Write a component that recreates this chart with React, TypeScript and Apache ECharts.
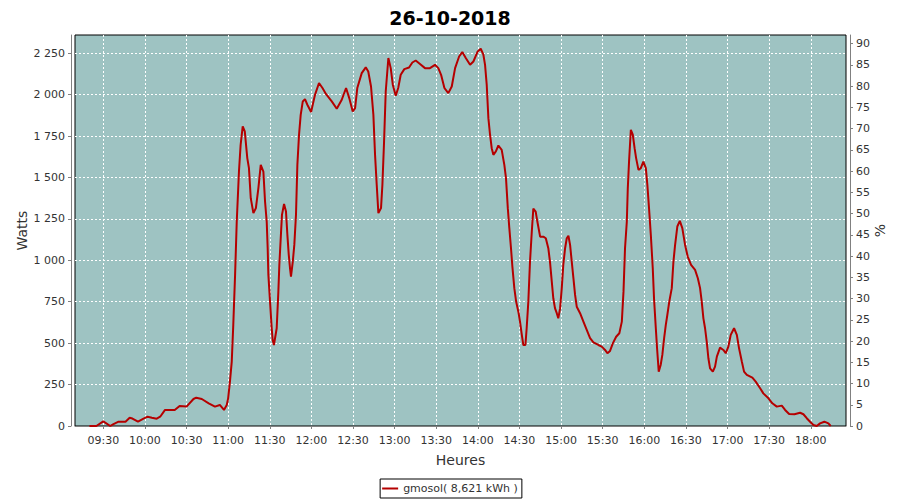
import React, { useEffect, useRef } from "react";
import * as echarts from "echarts";

const chartTitle = "26-10-2018";
const seriesName = "gmosol( 8,621 kWh )";
const xAxisName = "Heures";
const leftAxisName = "Watts";
const rightAxisName = "%";

// time in minutes since midnight
const xMin = 549.6;
const xMax = 1105.4;
const wattMax = 2360;
const percentMax = 92;

const minutes = [
  560, 565, 570, 575, 577, 581, 586, 589, 591, 595, 599, 602, 605, 608.5, 611, 614.5, 621.5, 625, 630, 635,
  637, 641, 646, 650.5, 654, 657, 659, 660, 661.3, 662.6, 663.7, 665, 666.2, 667.8, 669, 670.5, 672, 673.8, 675, 676.3,
  678.2, 680, 681.8, 683.5, 685.4, 686.6, 687.8, 688.5, 689, 690.2, 691.4, 692.1, 693, 695, 696.2, 696.9, 698.1, 698.8, 700.3, 701.7,
  702.7, 703.7, 704.6, 705.3, 706.6, 707.7, 708.9, 709.9, 711.1, 712.3, 713.8, 715.4, 717.1, 719.8, 722.6, 725.5, 728, 730.6, 734.7, 738.3,
  741.9, 745, 747.3, 749.8, 751.5, 753.1, 756.3, 759.2, 761, 763, 764.7, 765.9, 767.1, 768.3, 770.2, 771.2, 772.4, 773.6, 775.5, 777.2,
  778.7, 780.8, 782.6, 784.4, 787, 790.4, 792.8, 795.2, 798.3, 801.9, 805.5, 809.1, 811.5, 813.5, 815.9, 818.7, 821.2, 823.6, 826.5, 828.8,
  831.3, 834.4, 836.8, 839.9, 842.1, 844, 845.2, 846.4, 847.6, 848.8, 850, 851.2, 853, 854.8, 857.2, 859.1, 860.3, 861.6, 862.7, 863.9,
  864.9, 866.3, 867.6, 869.2, 870.4, 871.7, 872.8, 874.3, 875.2, 876.4, 877.6, 878.9, 880, 881.7, 882.9, 884.9, 887.2, 889, 890.8, 892,
  893.3, 894.4, 895.6, 896.9, 898, 899.3, 900.5, 901.6, 902.9, 904.1, 905.3, 906.5, 907.7, 908.9, 910.1, 911.3, 913.7, 916.1, 918.5, 920.9,
  923.3, 926.9, 929.3, 931.7, 933.4, 935.3, 937.3, 939.7, 942, 943.8, 945, 946.1, 947.4, 948.1, 949, 950.3, 951.7, 953, 954.1, 955.8,
  957.5, 959.3, 961.1, 962.2, 963.4, 964.7, 966.1, 967, 968.3, 969.2, 970.4, 971.8, 973, 974.3, 975.5, 976.6, 978, 979.8, 981, 982.2,
  983.8, 985.6, 987.4, 989.4, 991.3, 993.7, 996.6, 998.6, 1000.2, 1001.4, 1002.6, 1003.8, 1005, 1006.2, 1007.4, 1009.4, 1011, 1012.3, 1014.6, 1017,
  1018.7, 1020.6, 1022.3, 1024.7, 1026.7, 1028.3, 1030.3, 1031.9, 1033.9, 1037.9, 1040.3, 1043.5, 1045.8, 1049.5, 1052.3, 1055.5, 1059.1, 1061.5, 1064.4, 1068.2,
  1072.3, 1074.7, 1077.1, 1079.5, 1081.9, 1084.3, 1086.7, 1089.8, 1092.7, 1094.4,
];

const watts = [
  0, 0, 28, 0, 10, 26, 26, 50, 45, 26, 44, 56, 50, 44, 56, 97, 97, 121, 117, 163,
  171, 163, 137, 117, 127, 97, 127, 167, 268, 389, 610, 912, 1234, 1536, 1697, 1808, 1778, 1617, 1556, 1375,
  1285, 1315, 1436, 1576, 1536, 1355, 1234, 1073, 912, 751, 590, 519, 489, 590, 811, 972, 1164, 1274, 1340, 1294,
  1154, 1033, 952, 902, 992, 1093, 1274, 1576, 1758, 1878, 1959, 1973, 1939, 1895, 1999, 2070, 2040, 2003, 1959, 1915,
  1969, 2040, 1979, 1898, 1919, 2040, 2130, 2165, 2140, 2049, 1878, 1637, 1456, 1285, 1315, 1456, 1717, 2019, 2221, 2160,
  2060, 1993, 2040, 2120, 2154, 2164, 2194, 2206, 2185, 2160, 2160, 2180, 2160, 2120, 2040, 2009, 2049, 2160, 2230, 2257,
  2221, 2180, 2200, 2261, 2277, 2241, 2180, 2060, 1858, 1758, 1677, 1637, 1657, 1693, 1667, 1576, 1496, 1315, 1194, 1073,
  962, 832, 751, 690, 630, 550, 489, 489, 590, 751, 992, 1174, 1312, 1294, 1234, 1143, 1143, 1133, 1073, 992,
  871, 771, 711, 681, 650, 711, 832, 972, 1073, 1133, 1148, 1093, 992, 892, 791, 720, 681, 630, 580, 530,
  505, 489, 479, 459, 439, 453, 499, 539, 560, 630, 811, 1073, 1234, 1436, 1596, 1788, 1758, 1677, 1617, 1546,
  1556, 1596, 1556, 1456, 1315, 1154, 952, 771, 590, 469, 328, 368, 429, 530, 610, 670, 751, 832, 992, 1093,
  1204, 1238, 1194, 1093, 1023, 972, 942, 892, 832, 751, 650, 590, 509, 409, 348, 328, 358, 419, 473, 459,
  439, 479, 550, 590, 550, 469, 389, 328, 308, 292, 268, 228, 197, 167, 137, 117, 123, 97, 72, 71,
  80, 71, 47, 26, 6, 0, 16, 26, 16, 0,
];

const fmtTime = (v: number) => {
  const r = Math.round(v);
  const h = Math.floor(r / 60);
  const m = r % 60;
  return String(h).padStart(2, "0") + ":" + String(m).padStart(2, "0");
};
const fmtWatts = (v: number) => String(v).replace(/\B(?=(\d{3})+(?!\d))/g, " ");

const FONT = "DejaVu Sans";

export default function App() {
  const ref = useRef<HTMLDivElement>(null);
  useEffect(() => {
    if (!ref.current) return;
    const chart = echarts.init(ref.current, undefined, { renderer: "svg" });
    const data = minutes.map((m, i) => [m, watts[i]]);
    chart.setOption({
      animation: false,
      backgroundColor: "#ffffff",
      title: {
        text: chartTitle,
        left: "center",
        top: 3,
        textStyle: { fontFamily: FONT, fontWeight: "bold", fontSize: 19, color: "#000" },
      },
      legend: {
        bottom: 2,
        left: "center",
        data: [{ name: seriesName, icon: "rect" }],
        itemWidth: 16,
        itemHeight: 2,
        borderColor: "#000",
        borderWidth: 1,
        borderRadius: 0,
        padding: [4, 4, 4, 2],
        textStyle: { fontFamily: FONT, fontSize: 11, color: "#333" },
      },
      grid: {
        left: 75,
        right: 54,
        top: 35,
        bottom: 74,
        show: true,
        backgroundColor: "#9ec3c2",
        borderColor: "#000",
        borderWidth: 1,
      },
      xAxis: {
        type: "value",
        min: xMin,
        max: xMax,
        minInterval: 30,
        maxInterval: 30,
        offset: 4,
        name: xAxisName,
        nameLocation: "middle",
        nameGap: 23,
        nameMoveOverlap: false,
        nameTextStyle: { fontFamily: FONT, fontSize: 14, color: "#333" },
        axisLine: { show: true, lineStyle: { color: "#808080", width: 1 } },
        axisTick: { show: true, length: 3, lineStyle: { color: "#808080" } },
        axisLabel: {
          margin: 5,
          fontFamily: FONT,
          fontSize: 11,
          color: "#333",
          showMinLabel: false,
          showMaxLabel: false,
          formatter: (v: number) => (Math.abs(v % 30) < 1e-6 ? fmtTime(v) : ""),
        },
        splitLine: {
          show: true,
          showMinLine: false,
          showMaxLine: false,
          lineStyle: { color: "#ffffff", type: [2, 2], width: 1 },
        },
      },
      yAxis: [
        {
          type: "value",
          position: "left",
          min: 0,
          max: wattMax,
          interval: 250,
          offset: 4,
          name: leftAxisName,
          nameLocation: "middle",
          nameRotate: 90,
          nameGap: 42,
          nameMoveOverlap: false,
          nameTextStyle: { fontFamily: FONT, fontSize: 14, color: "#333" },
          axisLine: { show: true, lineStyle: { color: "#808080", width: 1 } },
          axisTick: { show: true, length: 3, lineStyle: { color: "#808080" } },
          axisLabel: {
            margin: 6,
            fontFamily: FONT,
            fontSize: 11,
            color: "#333",
            showMaxLabel: false,
            formatter: (v: number) => (v % 250 === 0 ? fmtWatts(v) : ""),
          },
          splitLine: {
            show: true,
            showMinLine: false,
            showMaxLine: false,
            lineStyle: { color: "#ffffff", type: [2, 2], width: 1 },
          },
        },
        {
          type: "value",
          position: "right",
          min: 0,
          max: percentMax,
          interval: 5,
          offset: 4,
          name: rightAxisName,
          nameLocation: "middle",
          nameRotate: 90,
          nameGap: 23,
          nameMoveOverlap: false,
          nameTextStyle: { fontFamily: FONT, fontSize: 14, color: "#333" },
          axisLine: { show: true, lineStyle: { color: "#808080", width: 1 } },
          axisTick: { show: true, length: 3, lineStyle: { color: "#808080" } },
          axisLabel: {
            margin: 6,
            fontFamily: FONT,
            fontSize: 11,
            color: "#333",
            showMaxLabel: false,
            formatter: (v: number) => (v % 5 === 0 ? String(v) : ""),
          },
          splitLine: { show: false },
        },
      ],
      series: [
        {
          name: seriesName,
          type: "line",
          yAxisIndex: 0,
          data,
          symbol: "none",
          smooth: false,
          color: "#b50000",
          lineStyle: { color: "#b50000", width: 2 },
        },
      ],
    });
    return () => chart.dispose();
  }, []);
  return (
    <div
      ref={ref}
      style={{ position: "fixed", left: 0, top: 0, width: 900, height: 500 }}
    />
  );
}
